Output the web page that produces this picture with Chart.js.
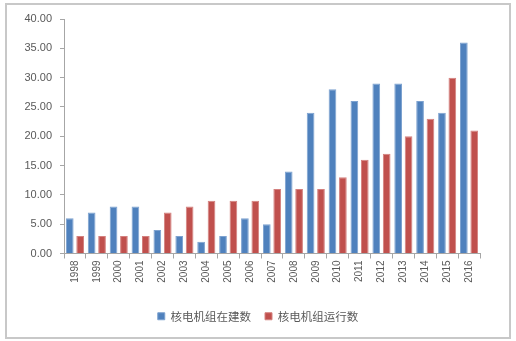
<!DOCTYPE html>
<html>
<head>
<meta charset="utf-8">
<script src="https://cdn.jsdelivr.net/npm/chart.js@4"></script>
<style>
  body { margin: 0; background: #fff; }
  #frame {
    position: absolute; left: 5px; top: 3px; width: 502px; height: 332px;
    border: 2px solid #c8c8c8; background: #fff;
  }
  #wrap { position: absolute; left: 0; top: 0; width: 516px; height: 341px; }
</style>
</head>
<body>
<div id="frame"></div>
<div id="wrap"><canvas id="canva" width="516" height="341"></canvas></div>
<script>
const years = ["1998", "1999", "2000", "2001", "2002", "2003", "2004", "2005", "2006", "2007",
  "2008", "2009", "2010", "2011", "2012", "2013", "2014", "2015", "2016"];
const building = [6, 7, 8, 8, 4, 3, 2, 3, 6, 5, 14, 24, 28, 26, 29, 29, 26, 24, 36];
const running = [3, 3, 3, 3, 7, 8, 9, 9, 9, 11, 11, 11, 13, 16, 17, 20, 23, 30, 21];
const yTicks = [0, 5, 10, 15, 20, 25, 30, 35, 40];

const canvas = document.getElementById("canva");
const ctx = canvas.getContext("2d");

let myChart = new Chart(ctx, {
  type: "bar",
  data: {
    labels: years,
    datasets: [
      {
        label: "核电机组在建数",
        data: building,
        backgroundColor: "#4f81bd",
        borderColor: "#7da2d0",
        borderWidth: 1,
        categoryPercentage: 0.95,
        barPercentage: 0.74,
      },
      {
        label: "核电机组运行数",
        data: running,
        backgroundColor: "#c0504d",
        borderColor: "#d4807e",
        borderWidth: 1,
        categoryPercentage: 0.95,
        barPercentage: 0.74,
      },
    ],
  },
  options: {
    responsive: false,
    animation: false,
    layout: { padding: { left: 0, top: 19, right: 0, bottom: 9 } },
    plugins: {
      tooltip: { enabled: false },
      legend: {
        position: "bottom",
        labels: {
          boxWidth: 7,
          boxHeight: 7,
          padding: 14,
          color: "#595959",
          font: { family: "'Noto Sans CJK SC'", size: 11.5 },
        },
      },
    },
    scales: {
      x: {
        grid: { display: true, offset: true, drawOnChartArea: false, color: "#a6a6a6", tickLength: 5 },
        border: { color: "#a6a6a6" },
        ticks: {
          maxRotation: 90,
          minRotation: 90,
          color: "#595959",
          padding: 2,
          font: { family: "'Liberation Sans'", size: 10 },
        },
        afterFit: (scale) => { scale.height = 43; },
      },
      y: {
        min: 0,
        max: 40,
        afterBuildTicks: (scale) => { scale.ticks = yTicks.map((v) => ({ value: v })); },
        grid: { display: true, drawOnChartArea: false, color: "#a6a6a6", tickLength: 4 },
        border: { color: "#a6a6a6" },
        ticks: {
          color: "#595959",
          padding: 8,
          font: { family: "'Liberation Sans'", size: 11 },
          callback: (v) => v.toFixed(2),
        },
        afterFit: (scale) => { scale.width = 64; },
      },
      // empty right margin so the legend stays centred on the whole frame
      pad: {
        position: "right",
        display: true,
        grid: { display: false },
        border: { display: false },
        ticks: { display: false },
        afterFit: (scale) => { scale.width = 36; },
      },
    },
  },
});
</script>
</body>
</html>
